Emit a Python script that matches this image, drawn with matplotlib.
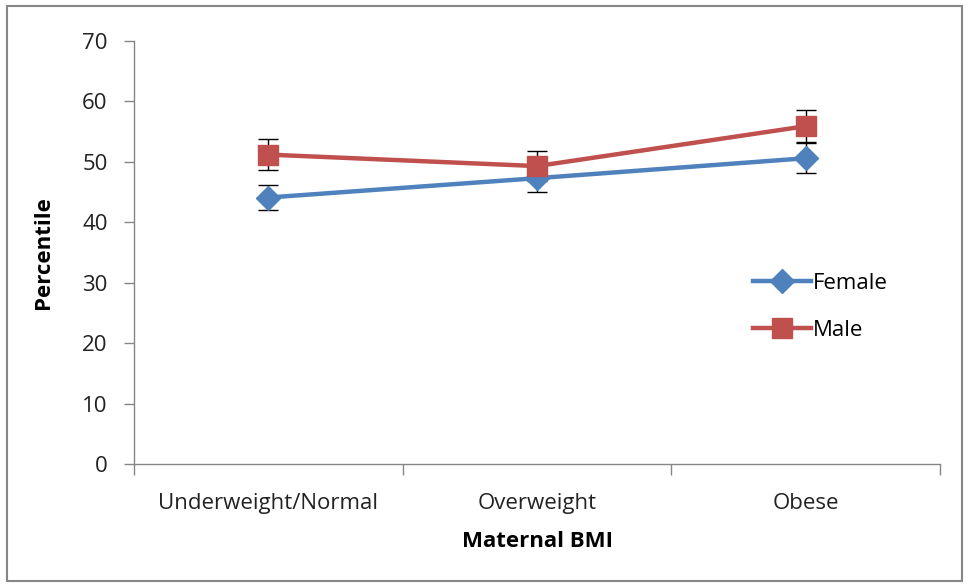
import matplotlib
matplotlib.use("Agg")
import matplotlib.pyplot as plt
from matplotlib.patches import Rectangle

categories = ["Underweight/Normal", "Overweight", "Obese"]
female = [44.1, 47.3, 50.6]
female_err = [2.1, 2.3, 2.5]
male = [51.2, 49.3, 55.9]
male_err = [2.6, 2.5, 2.6]
yticks = [0, 10, 20, 30, 40, 50, 60, 70]

W, H = 969, 584
fig = plt.figure(figsize=(W / 100, H / 100), dpi=100)
plt.rcParams['font.family'] = ['Open Sans', 'DejaVu Sans']

ax = fig.add_axes([134 / W, 1 - 464 / H, (940 - 134) / W, (464 - 41) / H])
x = list(range(len(categories)))

blue = "#4F81BD"
red = "#C0504D"
fs = 16

ax.errorbar(x, female, yerr=female_err, fmt="none", ecolor="black", elinewidth=1,
            capsize=7, capthick=1, zorder=2)
ax.errorbar(x, male, yerr=male_err, fmt="none", ecolor="black", elinewidth=1,
            capsize=7, capthick=1, zorder=2)
ax.plot(x, female, color=blue, lw=3.2, marker="D", markersize=12, label="Female", zorder=3)
ax.plot(x, male, color=red, lw=3.2, marker="s", markersize=14, label="Male", zorder=4)

ax.set_xlim(-0.5, 2.5)
ax.set_ylim(0, 70)
ax.set_yticks(yticks)
ax.set_yticklabels([str(v) for v in yticks], fontsize=fs, color="#222222")
ax.set_xticks(x)
ax.set_xticklabels(categories, fontsize=fs, color="#222222")
ax.set_xticks([-0.5, 0.5, 1.5, 2.5], minor=True)
ax.tick_params(axis="x", which="major", length=0, pad=21)
ax.tick_params(axis="x", which="minor", length=8, color="#868686", width=1)
ax.tick_params(axis="y", length=7, color="#868686", width=1, pad=12)

for s in ["top", "right"]:
    ax.spines[s].set_visible(False)
for s in ["left", "bottom"]:
    ax.spines[s].set_color("#868686")
    ax.spines[s].set_linewidth(1)

ax.set_xlabel("Maternal BMI", fontsize=fs, fontweight="bold", labelpad=12)
ax.set_ylabel("Percentile", fontsize=fs, fontweight="bold", labelpad=20)

ax.legend(loc="upper left", bbox_to_anchor=((742 - 134) / (940 - 134), (464 - 262) / (464 - 41)),
          frameon=False, fontsize=fs, handlelength=2.6, handletextpad=0.1,
          labelspacing=1.15, borderpad=0)

fig.patches.append(Rectangle((7 / W, 3 / H), (962 - 7) / W, (580 - 5) / H,
                             transform=fig.transFigure, fill=False,
                             edgecolor="#868686", linewidth=1.5))

fig.savefig("out.png", dpi=100)
